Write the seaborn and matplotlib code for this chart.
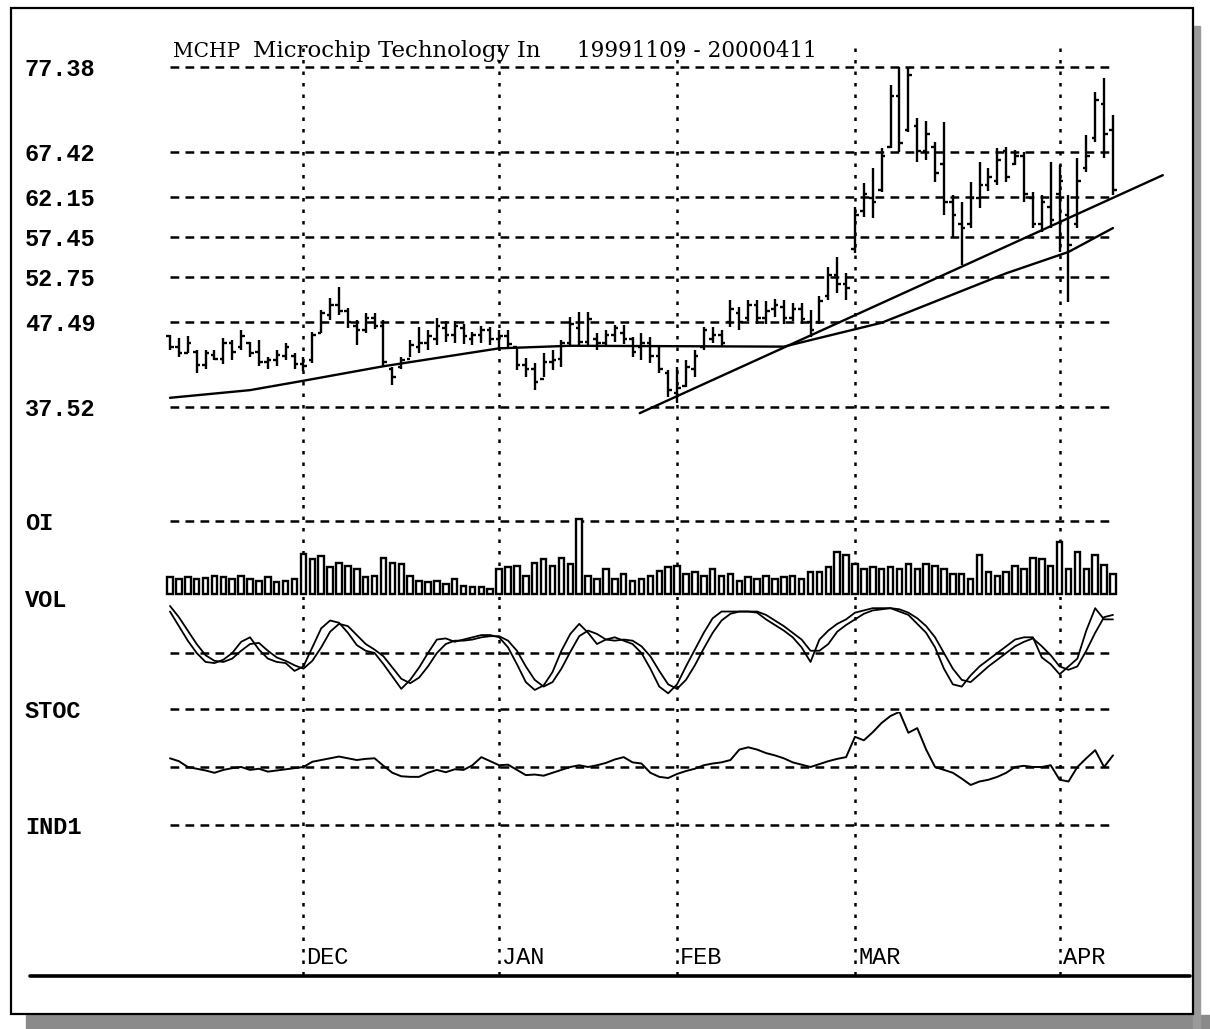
'''
MCHP bar chart with volume, stochastics and IND1 panels
'''
import numpy as np
import pandas as pd
import matplotlib
matplotlib.use('Agg')
import matplotlib.pyplot as plt
from matplotlib.lines import Line2D
from matplotlib.patches import Rectangle
import seaborn as sns

#price bars 19991109 - 20000411, one entry per trading day
high = [46.0, 45.6, 45.8, 44.2, 44.2, 44.2, 45.6, 45.4, 46.5, 45.2, 45.4, 43.4, 44.2, 45.0, 43.8,
        43.4, 46.3, 48.9, 50.3, 51.6, 49.1, 47.7, 48.5, 48.5, 47.7, 42.2, 43.4, 45.4, 46.9, 46.5,
        47.9, 47.6, 47.6, 47.2, 46.3, 47.0, 46.9, 46.6, 46.6, 44.6, 43.3, 42.7, 43.9, 44.2, 45.4,
        48.1, 48.7, 48.7, 46.2, 46.6, 47.1, 47.1, 45.7, 46.2, 45.7, 44.6, 41.9, 42.2, 43.0, 44.2,
        46.9, 46.9, 46.5, 50.1, 49.2, 50.1, 50.1, 49.9, 50.2, 50.1, 49.7, 49.7, 48.9, 50.5, 53.9,
        55.1, 53.2, 61.0, 63.8, 65.5, 67.9, 75.3, 77.4, 77.4, 71.4, 71.0, 68.6, 70.9, 62.4, 61.6,
        63.9, 66.2, 65.5, 67.9, 68.0, 67.6, 67.4, 62.7, 62.4, 66.2, 65.9, 62.4, 66.7, 69.4, 74.5,
        76.1, 71.7]
low = [44.2, 43.4, 43.9, 41.5, 42.0, 43.0, 42.6, 43.0, 44.2, 43.4, 42.3, 42.0, 42.3, 43.0, 42.0,
       41.8, 42.7, 46.2, 47.7, 48.3, 46.8, 44.8, 46.2, 46.7, 42.2, 40.1, 42.0, 43.4, 43.9, 44.2,
       44.8, 45.2, 45.0, 44.9, 44.8, 45.0, 44.8, 44.4, 44.6, 41.9, 41.0, 39.5, 41.0, 41.9, 42.2,
       44.8, 44.6, 44.8, 44.2, 44.8, 45.1, 44.9, 43.4, 43.0, 42.7, 41.5, 38.7, 38.0, 39.9, 41.0,
       44.2, 45.0, 44.6, 46.9, 46.5, 47.6, 47.2, 47.2, 48.1, 47.2, 47.6, 47.2, 45.7, 47.2, 50.1,
       50.9, 50.1, 55.6, 59.8, 59.7, 62.7, 67.9, 67.4, 69.8, 66.2, 66.5, 63.9, 60.0, 57.3, 54.2,
       58.5, 60.8, 62.9, 63.5, 63.9, 65.9, 61.6, 58.5, 58.0, 58.5, 55.7, 49.8, 58.5, 65.1, 68.6,
       66.7, 62.4]
open_ = [45.8, 44.6, 43.9, 44.0, 42.5, 43.6, 43.2, 45.0, 44.5, 45.0, 44.0, 42.8, 43.0, 43.5, 43.5,
         42.6, 43.0, 46.2, 48.3, 49.5, 48.8, 47.0, 46.5, 48.0, 47.0, 42.0, 42.2, 43.2, 44.5, 45.0,
         45.5, 46.8, 46.0, 46.8, 45.5, 46.0, 46.5, 45.5, 45.9, 44.5, 42.5, 42.0, 40.8, 42.8, 43.2,
         45.0, 46.8, 45.2, 45.5, 45.0, 46.0, 46.2, 45.5, 44.5, 45.0, 43.5, 41.5, 39.2, 40.0, 42.0,
         44.5, 45.5, 46.0, 47.5, 48.5, 48.0, 49.5, 48.0, 49.0, 49.2, 48.0, 49.0, 47.5, 47.5, 50.5,
         53.0, 52.0, 56.0, 60.5, 62.0, 63.0, 68.0, 74.0, 70.0, 70.5, 67.5, 68.0, 66.0, 61.5, 59.0,
         59.0, 62.0, 63.5, 64.0, 67.5, 66.0, 67.0, 62.0, 59.0, 61.0, 62.5, 60.0, 59.0, 65.5, 69.0,
         73.0, 70.0]
close = [44.6, 43.8, 45.0, 42.5, 43.8, 43.2, 45.0, 44.0, 45.8, 43.8, 42.8, 43.0, 43.6, 44.5, 42.6,
         42.3, 46.0, 48.5, 49.5, 48.8, 47.5, 46.5, 48.0, 47.0, 42.8, 41.0, 43.0, 44.8, 45.0, 45.8,
         47.0, 46.0, 47.0, 45.8, 46.0, 46.5, 45.5, 45.8, 44.9, 42.5, 42.0, 40.5, 42.8, 43.0, 45.0,
         47.2, 45.2, 47.8, 45.0, 46.0, 46.8, 45.5, 44.0, 45.0, 43.5, 42.0, 39.5, 39.8, 42.2, 43.5,
         46.5, 46.0, 45.0, 49.0, 47.5, 49.5, 48.0, 48.8, 49.5, 48.0, 49.0, 47.8, 46.5, 50.0, 53.0,
         52.0, 51.5, 60.0, 62.5, 61.5, 67.0, 74.0, 68.5, 76.5, 67.5, 69.5, 65.0, 61.5, 60.0, 58.5,
         62.0, 63.5, 64.5, 66.5, 64.5, 67.0, 62.5, 59.0, 61.5, 59.5, 64.0, 56.5, 64.0, 67.0, 73.5,
         69.5, 63.0]

#moving average knots (day, price) and the rising trend line
ma_day = [0, 9, 15, 24, 37, 45, 69, 80, 94, 101, 106]
ma_price = [38.6, 39.5, 40.6, 42.3, 44.4, 44.7, 44.6, 47.4, 53.2, 55.7, 58.5]
trend_day = [52.8, 111.6]
trend_price = [36.8, 64.7]

volume = [2.3, 2.1, 2.3, 2.0, 2.2, 2.4, 2.3, 2.0, 2.4, 2.1, 1.8, 2.3, 1.6, 1.8, 2.1,
          5.5, 4.8, 5.2, 3.7, 4.3, 3.9, 3.4, 2.3, 2.5, 5.0, 4.3, 4.1, 2.5, 1.8, 1.6,
          1.8, 1.4, 2.0, 1.1, 0.9, 0.9, 0.7, 3.4, 3.7, 3.9, 2.5, 4.3, 4.8, 3.9, 5.0,
          4.1, 10.3, 2.5, 2.0, 3.4, 2.0, 2.7, 1.8, 2.0, 2.5, 3.2, 3.7, 3.9, 2.7, 3.0,
          2.5, 3.4, 2.5, 2.7, 1.8, 2.3, 2.0, 2.5, 2.0, 2.3, 2.5, 2.0, 3.0, 3.0, 3.7,
          5.7, 5.3, 4.1, 3.4, 3.7, 3.4, 3.7, 3.4, 4.1, 3.4, 4.1, 3.9, 3.4, 2.7, 2.7,
          2.0, 5.3, 3.0, 2.5, 3.0, 3.9, 3.4, 5.0, 4.8, 3.9, 7.1, 3.4, 5.7, 3.4, 5.3,
          4.0, 2.7]

stoc_k = [87, 74, 61, 50, 42, 41, 44, 50, 60, 64, 53, 45, 42, 41, 34, 38, 55, 72, 79, 77,
          68, 57, 52, 50, 40, 29, 18, 26, 37, 50, 62, 63, 60, 62, 64, 66, 66, 64, 55, 40,
          24, 17, 21, 33, 52, 67, 76, 68, 58, 62, 64, 61, 58, 50, 36, 20, 14, 22, 38, 53,
          68, 81, 87, 87, 87, 87, 86, 80, 75, 70, 64, 55, 42, 62, 70, 76, 80, 86, 88, 90,
          90, 90, 87, 84, 76, 68, 55, 36, 22, 20, 30, 38, 44, 50, 56, 62, 64, 64, 46, 40,
          31, 38, 45, 70, 90, 80, 80]
stoc_d = [92, 82, 70, 58, 48, 43, 42, 45, 52, 58, 59, 52, 46, 43, 39, 36, 43, 55, 69, 76,
          74, 66, 58, 53, 47, 37, 27, 23, 28, 38, 50, 58, 61, 61, 62, 64, 65, 65, 61, 52,
          38, 26, 20, 24, 36, 51, 65, 70, 67, 62, 61, 62, 61, 56, 47, 34, 22, 18, 26, 39,
          54, 68, 79, 85, 87, 87, 87, 84, 79, 74, 68, 62, 52, 52, 58, 69, 75, 80, 85, 88,
          89, 90, 89, 86, 81, 74, 64, 50, 36, 26, 24, 31, 38, 44, 50, 56, 60, 63, 56, 48,
          38, 35, 38, 52, 68, 82, 84]

ind1 = [1.5, 1.0, 0.0, -0.3, -0.6, -1.0, -0.5, -0.2, 0.0, -0.5, -0.3, -0.8, -0.6, -0.4, -0.2,
        0.0, 0.9, 1.2, 1.5, 1.8, 1.5, 1.2, 1.4, 1.5, 0.2, -1.0, -1.6, -1.7, -1.7, -1.0,
        -0.5, -0.9, -0.4, -0.5, 0.3, 1.7, 1.0, 0.3, 0.4, -0.5, -1.4, -1.3, -1.5, -1.0, -0.5,
        0.0, 0.3, 0.0, 0.3, 0.7, 1.3, 1.7, 0.8, 0.6, -1.0, -1.7, -1.9, -1.2, -0.7, -0.3,
        0.3, 0.6, 0.8, 1.2, 3.0, 3.4, 3.0, 2.4, 2.0, 1.5, 0.8, 0.4, 0.0, 0.5, 1.0,
        1.4, 1.7, 5.2, 4.6, 6.0, 7.6, 8.8, 9.5, 5.9, 6.7, 3.0, 0.0, -0.5, -1.0, -2.0,
        -3.1, -2.5, -2.2, -1.7, -1.0, 0.0, 0.2, 0.0, 0.0, 0.3, -2.2, -2.5, 0.0, 1.5, 2.9,
        0.0, 2.0]

price_ticks = [77.38, 67.42, 62.15, 57.45, 52.75, 47.49, 37.52]
month_start = [15, 37, 57, 77, 100]
month_names = ['DEC', 'JAN', 'FEB', 'MAR', 'APR']

days = np.arange(len(close))
bars = pd.DataFrame({'day': days, 'high': high, 'low': low, 'open': open_, 'close': close})

sns.set_theme(style='white')
plt.rcParams['font.family'] = ['DejaVu Sans']
plt.rcParams['text.color'] = 'black'
plt.rcParams['ytick.color'] = 'black'

W, H = 1210, 1029
fig = plt.figure(figsize=(W / 100, H / 100), dpi=100)
fig.patch.set_facecolor('white')

#shadow and frame, kept below the panels
fig.add_artist(Rectangle((26 / W, 1 - 1029 / H), (W - 26) / W, 14 / H,
                         transform=fig.transFigure, color='#8a8a8a', zorder=-3))
fig.add_artist(Rectangle((1193 / W, 0), 7 / W, 1 - 26 / H,
                         transform=fig.transFigure, color='#9a9a9a', zorder=-3))
fig.add_artist(Rectangle((11 / W, 1 - 1014 / H), 1182 / W, 1006 / H, transform=fig.transFigure,
                         facecolor='white', edgecolor='black', lw=1.6, zorder=-2))
fig.add_artist(Line2D([30 / W, 1190 / W], [1 - 976 / H, 1 - 976 / H], transform=fig.transFigure,
                      color='black', lw=2.6, zorder=5))

XLIM = (-0.56, 112.41)
GRID = dict(colors='black', linestyles=(0, (3.5, 2.5)), lw=1.8, zorder=1)
VLINE = dict(color='black', ls=(0, (1.4, 3.2)), lw=1.8, zorder=1)
MONO = ['Liberation Mono', 'DejaVu Sans Mono']
LABEL = dict(family=MONO, weight='bold', size=17, color='black')


def panel(top, bottom):
    ax = fig.add_axes([165 / W, 1 - bottom / H, (1170 - 165) / W, (bottom - top) / H])
    ax.set_zorder(2)
    ax.patch.set_visible(False)
    ax.set_xlim(*XLIM)
    ax.set_xticks([])
    for s in ax.spines.values():
        s.set_visible(False)
    for d in month_start:
        ax.axvline(d, **VLINE)
    ax.tick_params(axis='y', length=0, pad=100.8)
    return ax


def left_labels(ax, ticks, labels):
    ax.set_yticks(ticks)
    ax.set_yticklabels(labels, **LABEL)
    for t in ax.get_yticklabels():
        t.set_horizontalalignment('left')


#price panel
ax_p = panel(45, 500)
ax_p.set_ylim(26.62, 79.96)
ax_p.hlines(price_ticks, 0, 106.2, **GRID)
ax_p.vlines(bars['day'], bars['low'], bars['high'], color='black', lw=1.7, zorder=3)
ax_p.hlines(bars['open'], bars['day'] - 0.4, bars['day'], color='black', lw=1.7, zorder=3)
ax_p.hlines(bars['close'], bars['day'], bars['day'] + 0.4, color='black', lw=1.7, zorder=3)
sns.lineplot(x=ma_day, y=ma_price, ax=ax_p, color='black', lw=1.7, zorder=4)
sns.lineplot(x=trend_day, y=trend_price, ax=ax_p, color='black', lw=1.7, zorder=4)
left_labels(ax_p, price_ticks, ['%.2f' % v for v in price_ticks])

#volume panel
ax_v = panel(500, 600)
ax_v.set_ylim(-0.82, 12.88)
ax_v.hlines([10], 0, 106.2, **GRID)
ax_v.bar(days, volume, width=0.62, facecolor='white', edgecolor='black', lw=1.7, zorder=3)
left_labels(ax_v, [10, -0.55], ['OI', 'VOL'])

#stochastics panel
ax_s = panel(600, 712)
ax_s.set_ylim(-2.68, 97.3)
ax_s.hlines([50, 0], 0, 106.2, **GRID)
sns.lineplot(x=days, y=stoc_k, ax=ax_s, color='black', lw=1.3, zorder=3)
sns.lineplot(x=days, y=stoc_d, ax=ax_s, color='black', lw=1.3, zorder=3)
left_labels(ax_s, [0], ['STOC'])

#IND1 panel
ax_i = panel(712, 975)
ax_i.set_ylim(-35.86, 9.48)
ax_i.hlines([0, -10], 0, 106.2, **GRID)
sns.lineplot(x=days, y=ind1, ax=ax_i, color='black', lw=1.4, zorder=3)
left_labels(ax_i, [-10], ['IND1'])
for d, name in zip(month_start, month_names):
    ax_i.text(d + 0.35, -32.9, name, ha='left', va='center', family=MONO, size=17, color='black')

for ax in (ax_p, ax_v, ax_s, ax_i):
    ax.set_xlabel('')
    ax.set_ylabel('')

#title pieces
serif = ['DejaVu Serif', 'Liberation Serif']
fig.text(173 / W, 1 - 57 / H, 'MCHP', family=serif, size=14.5, ha='left', va='baseline', color='black')
fig.text(253 / W, 1 - 57 / H, 'Microchip Technology In', family=serif, size=16.5, ha='left',
         va='baseline', color='black')
fig.text(577 / W, 1 - 57 / H, '19991109 - 20000411', family=serif, size=15.5, ha='left',
         va='baseline', color='black')

fig.savefig('out.png', dpi=100, facecolor='white')
